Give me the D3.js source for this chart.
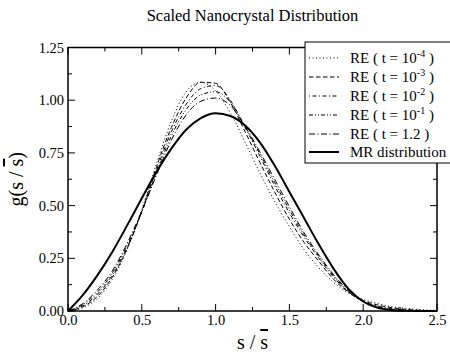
<!DOCTYPE html>
<html><head><meta charset="utf-8">
<script src="https://cdn.jsdelivr.net/npm/d3@7"></script>
<style>body{margin:0;background:#fff}svg{display:block}svg text{font-family:"Liberation Serif","Times New Roman",serif !important;fill:#000}</style>
</head><body><svg id="c" width="450" height="356"></svg>
<script>
const xs = [0,0.1,0.2,0.3,0.4,0.5,0.6,0.7,0.8,0.9,1.0,1.1,1.2,1.3,1.4,1.5,1.6,1.7,1.8,1.9,2.0,2.1,2.2,2.3,2.4,2.5];
const mr   = [0,0.075,0.17,0.28,0.405,0.535,0.66,0.77,0.86,0.915,0.938,0.925,0.88,0.80,0.69,0.565,0.44,0.315,0.2,0.105,0.045,0.015,0.004,0.001,0,0];
const re4  = [0,0.015,0.06,0.15,0.29,0.48,0.70,0.90,1.04,1.085,1.045,0.94,0.80,0.655,0.52,0.40,0.29,0.205,0.135,0.085,0.055,0.035,0.02,0.012,0.006,0.003];
const re3  = [0,0.02,0.07,0.16,0.295,0.475,0.685,0.87,1.01,1.085,1.08,0.99,0.85,0.705,0.565,0.435,0.325,0.235,0.15,0.09,0.05,0.028,0.015,0.007,0.003,0.001];
const re2  = [0,0.025,0.08,0.17,0.30,0.47,0.67,0.85,0.98,1.055,1.07,1.0,0.87,0.735,0.595,0.465,0.35,0.25,0.16,0.09,0.045,0.022,0.01,0.004,0.001,0];
const re1  = [0,0.03,0.09,0.18,0.31,0.47,0.655,0.83,0.955,1.025,1.04,0.99,0.875,0.745,0.61,0.48,0.36,0.258,0.166,0.093,0.045,0.02,0.008,0.003,0.001,0];
const re12 = [0,0.035,0.10,0.19,0.32,0.475,0.645,0.81,0.93,0.995,1.01,0.975,0.875,0.755,0.625,0.495,0.37,0.265,0.172,0.098,0.045,0.018,0.006,0.002,0,0];
const xTicks = [0,0.5,1.0,1.5,2.0,2.5];
const yTicks = [0,0.25,0.5,0.75,1.0,1.25];
const seriesNames = ["-4","-3","-2","-1","1.2","MR"];

const FONT = "'Liberation Serif','Times New Roman',serif";
const svg = d3.select("#c");
const L=68,R=437,T=47.5,B=311;
const x = d3.scaleLinear().domain([0,2.5]).range([L,R]);
const y = d3.scaleLinear().domain([0,1.25]).range([B,T]);

svg.append("text").attr("x",(L+R)/2).attr("y",21).attr("text-anchor","middle").style("font-size","16.5px").text("Scaled Nanocrystal Distribution");

const g = svg.append("g");
const series = [
  {d:re4, dash:"1,2.5", w:1},
  {d:re3, dash:"4.5,2.5", w:1},
  {d:re2, dash:"1,2.5,4,2.5", w:1},
  {d:re1, dash:"4,2,1,2,1,2", w:1},
  {d:re12, dash:"6,2.5,1,2.5", w:1},
  {d:mr, dash:null, w:2}
];
const line = d3.line().x((d,i)=>x(xs[i])).y(d=>y(d)).curve(d3.curveMonotoneX);
series.forEach(s=>{
  g.append("path").attr("d",line(s.d)).attr("fill","none").attr("stroke","#000")
   .attr("stroke-width",s.w).attr("stroke-dasharray",s.dash);
});

const minorX = d3.range(0,2.5001,0.25), minorY=d3.range(0,1.2501,0.125);
const ax = svg.append("g");
ax.append("rect").attr("x",L).attr("y",T).attr("width",R-L).attr("height",B-T).attr("fill","none").attr("stroke","#000").attr("stroke-width",1.5);
minorX.forEach(v=>{
  const maj = Math.abs(v*2-Math.round(v*2))<1e-6, len = maj?7:4;
  ax.append("line").attr("x1",x(v)).attr("x2",x(v)).attr("y1",B).attr("y2",B-len).attr("stroke","#000");
  ax.append("line").attr("x1",x(v)).attr("x2",x(v)).attr("y1",T).attr("y2",T+len).attr("stroke","#000");
});
minorY.forEach(v=>{
  const maj = Math.abs(v*4-Math.round(v*4))<1e-6, len = maj?7:4;
  ax.append("line").attr("x1",L).attr("x2",L+len).attr("y1",y(v)).attr("y2",y(v)).attr("stroke","#000");
  ax.append("line").attr("x1",R).attr("x2",R-len).attr("y1",y(v)).attr("y2",y(v)).attr("stroke","#000");
});
const xa = d3.axisBottom(x).tickValues(xTicks).tickFormat(d3.format(".1f")).tickSize(0).tickPadding(4);
const xg = svg.append("g").attr("transform",`translate(0,${B})`).call(xa).attr("font-family",FONT);
xg.select(".domain").remove();
xg.selectAll("text").style("font-size","14.5px").style("font-family",FONT);
const ya = d3.axisLeft(y).tickValues(yTicks).tickFormat(d3.format(".2f")).tickSize(0).tickPadding(4);
const yg = svg.append("g").attr("transform",`translate(${L},0)`).call(ya).attr("font-family",FONT);
yg.select(".domain").remove();
yg.selectAll("text").style("font-size","14.5px").style("font-family",FONT);

const xl = svg.append("text").attr("x",(L+R)/2).attr("y",349).attr("text-anchor","middle").style("font-size","20px");
xl.append("tspan").text("s / ");
xl.append("tspan").text("s").attr("text-decoration","overline");
const yl = svg.append("text").attr("transform",`translate(23,${(T+B)/2}) rotate(-90)`).attr("text-anchor","middle").style("font-size","20px");
yl.append("tspan").text("g(s / ");
yl.append("tspan").text("s").attr("text-decoration","overline");
yl.append("tspan").text(")");

const lg = svg.append("g");
lg.append("rect").attr("x",305).attr("y",42).attr("width",146).attr("height",121).attr("fill","#fff").attr("stroke","#000").attr("stroke-width",1);
const rowsY = [58,77,96,115,134,152];
series.forEach((s,i)=>{
  const yy = rowsY[i];
  lg.append("line").attr("x1",309).attr("x2",339).attr("y1",yy).attr("y2",yy).attr("stroke","#000").attr("stroke-width",s.w).attr("stroke-dasharray",s.dash);
  const t = lg.append("text").attr("x",350).attr("y",yy+5).style("font-size","15px");
  const nm = seriesNames[i];
  if(nm==="MR"){ t.text("MR distribution"); }
  else if(nm==="1.2"){ t.text("RE ( t = 1.2 )"); }
  else {
    t.append("tspan").text("RE ( t = 10");
    t.append("tspan").text(nm).style("font-size","10px").attr("dy",-6);
    t.append("tspan").text(" )").attr("dy",6);
  }
});
</script></body></html>
